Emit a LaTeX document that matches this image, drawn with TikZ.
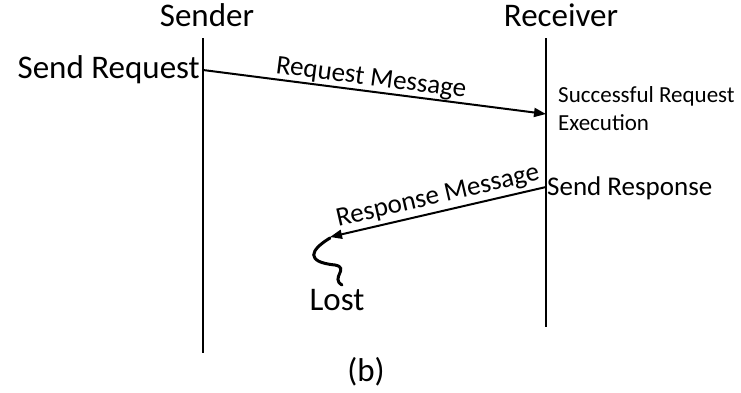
\documentclass[tikz,border=0pt]{standalone}
\usepackage{fontspec}
\setmainfont{Carlito}
\usetikzlibrary{arrows.meta}
\tikzset{
  big/.style={font=\fontsize{33}{40}\selectfont, inner sep=0pt},
  mid/.style={font=\fontsize{27}{32}\selectfont, inner sep=0pt},
  small/.style={font=\fontsize{23}{28}\selectfont, inner sep=0pt, align=left},
  life/.style={line width=2.5pt},
  msg/.style={line width=2pt, -{Triangle[length=12pt,width=9pt]}}
}
\begin{document}
\begin{tikzpicture}[x=1pt,y=-1pt]
\useasboundingbox (0,0) rectangle (741,392);
% lifelines
\coordinate (s1) at (203,38);
\coordinate (s2) at (203,353);
\coordinate (r1) at (546,38);
\coordinate (r2) at (546,327);
\draw[life] (s1) -- (s2);
\draw[life] (r1) -- (r2);
\node[big] (sender) at (207,15) {Sender};
\node[big] (receiver) at (561,15) {Receiver};
\node[big, anchor=east] (sreq) at (200,70) {Send Request};
% request message
\coordinate (a1) at (203,70);
\coordinate (a2) at (546,114);
\draw[msg] (a1) -- (a2);
\node[mid, rotate=-7.3] (reqmsg) at (371,79) {Request Message};
\node[small, anchor=west] (succ) at (558,109) {Successful Request\\Execution};
% response
\node[mid, anchor=west] (sresp) at (547,188) {Send Response};
\coordinate (b1) at (546,187);
\coordinate (b2) at (330,237);
\draw[msg] (b1) -- (b2);
\node[mid, rotate=13] (respmsg) at (438,197) {Response Message};
% squiggle
\coordinate (q1) at (330,238);
\coordinate (q2) at (342,285);
\draw[line width=3pt, line cap=round] (q1) .. controls (310,250) and (305,262) .. (335,265)
  .. controls (350,268) and (330,278) .. (q2);
\node[big] (lost) at (337,300) {Lost};
\node[big] (b) at (366,372) {(b)};
\end{tikzpicture}
\end{document}
